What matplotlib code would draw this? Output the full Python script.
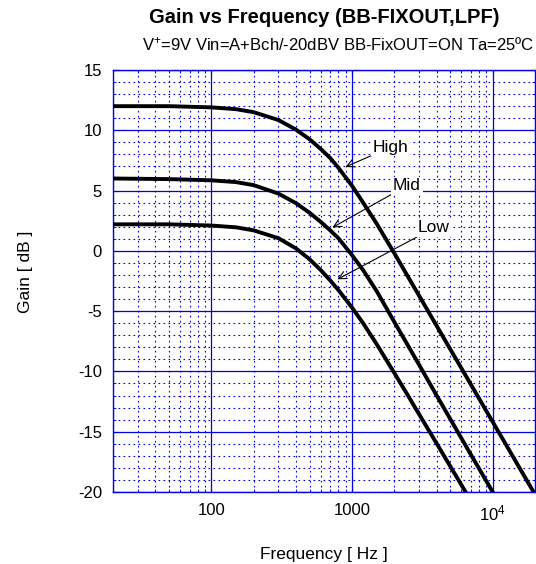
import matplotlib
matplotlib.use("Agg")
import matplotlib.pyplot as plt
from matplotlib.ticker import FixedLocator, NullFormatter, FixedFormatter

plt.rcParams["font.family"] = ["Liberation Sans", "DejaVu Sans"]
plt.rcParams["mathtext.fontset"] = "custom"
plt.rcParams["mathtext.rm"] = "Liberation Sans"
plt.rcParams["mathtext.it"] = "Liberation Sans:italic"
plt.rcParams["axes.unicode_minus"] = False

# data
freq = [20, 50, 100, 150, 200, 300, 400, 500, 600, 700, 800, 1000, 1200,
        1500, 2000, 2500, 3000, 4000, 5000, 6000, 7000, 8000, 10000,
        12000, 15000, 20000]
gain_high = [12.0, 12.0, 11.9, 11.75, 11.5, 10.85, 10.05, 9.25, 8.45, 7.7,
             6.9, 5.4, 4.0, 2.25, -0.2, -2.14, -3.72, -6.22, -8.16, -9.74,
             -11.08, -12.24, -14.18, -15.76, -17.7, -20.2]
gain_mid = [6.0, 5.95, 5.85, 5.7, 5.45, 4.75, 3.95, 3.15, 2.4, 1.7, 1.05,
            -0.35, -1.6, -3.35, -5.9, -7.85, -9.45, -12.0, -13.95, -15.55,
            -16.9, -18.05, -20.0, -21.6, -23.5, -26.0]
gain_low = [2.2, 2.2, 2.1, 1.95, 1.7, 1.05, 0.2, -0.7, -1.6, -2.45, -3.25,
            -4.7, -6.0, -7.75, -10.13, -12.0, -13.55, -15.98, -17.87, -19.42,
            -20.72, -21.9, -23.8, -25.4, -27.3, -29.8]

labels = ["High", "Mid", "Low"]
label_tip = [(899, 6.96), (727, 1.94), (789, -2.36)]
label_text = [(1409, 8.6), (1958, 5.4), (2951, 1.9)]

x_ticks = [100, 1000, 10000]
x_ticklabels = ["100", "1000", "$10^4$"]
y_ticks = [-20, -15, -10, -5, 0, 5, 10, 15]

BLUE = "#0000ee"

fig = plt.figure(figsize=(5.36, 5.64), dpi=100)
ax = fig.add_axes([0.2108, 0.1277, 0.7873, 0.7482])

for g in (gain_high, gain_mid, gain_low):
    ax.plot(freq, g, color="black", lw=2.8, solid_capstyle="butt", zorder=3)

ax.set_xscale("log")
ax.set_xlim(20, 20000)
ax.set_ylim(-20, 15)

ax.xaxis.set_major_locator(FixedLocator(x_ticks))
ax.xaxis.set_major_formatter(FixedFormatter(x_ticklabels))
minor_x = [m * 10 ** e for e in (1, 2, 3, 4) for m in range(2, 10)
           if 20 <= m * 10 ** e <= 20000]
ax.xaxis.set_minor_locator(FixedLocator(minor_x))
ax.xaxis.set_minor_formatter(NullFormatter())
ax.yaxis.set_major_locator(FixedLocator(y_ticks))
ax.yaxis.set_minor_locator(FixedLocator(range(-20, 16)))

ax.grid(which="major", color=BLUE, lw=0.9, ls="-")
ax.grid(which="minor", color=BLUE, lw=0.8, ls=(0, (1.5, 3)))
ax.set_axisbelow(True)
for s in ax.spines.values():
    s.set_color(BLUE)
    s.set_linewidth(1.0)
ax.tick_params(which="both", direction="in", color=BLUE, top=True,
               right=True, labelsize=12)
ax.tick_params(which="major", length=4)
ax.tick_params(which="minor", length=2.5)
ax.tick_params(axis="x", pad=8)
ax.tick_params(axis="y", pad=8)

for name, tip, txt in zip(labels, label_tip, label_text):
    ax.annotate(name, xy=tip, xytext=txt, fontsize=12.5, va="center",
                ha="left", zorder=4,
                bbox=dict(boxstyle="square,pad=0.1", fc="white", ec="none"),
                arrowprops=dict(arrowstyle="->", color="black", lw=0.8,
                                shrinkA=0, shrinkB=0, mutation_scale=14))

fig.text(0.6045, 0.969, "Gain vs Frequency (BB-FIXOUT,LPF)", ha="center",
         va="center", fontsize=14.5, fontweight="bold")
fig.text(0.9965, 0.920, "V$^{+}$=9V Vin=A+Bch/-20dBV BB-FixOUT=ON Ta=25ºC",
         ha="right", va="center", fontsize=12)
fig.text(0.6045, 0.016, "Frequency [ Hz ]", ha="center", va="center",
         fontsize=12.5)
fig.text(0.047, 1 - 272 / 564, "Gain [ dB ]", ha="center", va="center",
         rotation=90, fontsize=12.5)

fig.savefig("out.png", dpi=100)
